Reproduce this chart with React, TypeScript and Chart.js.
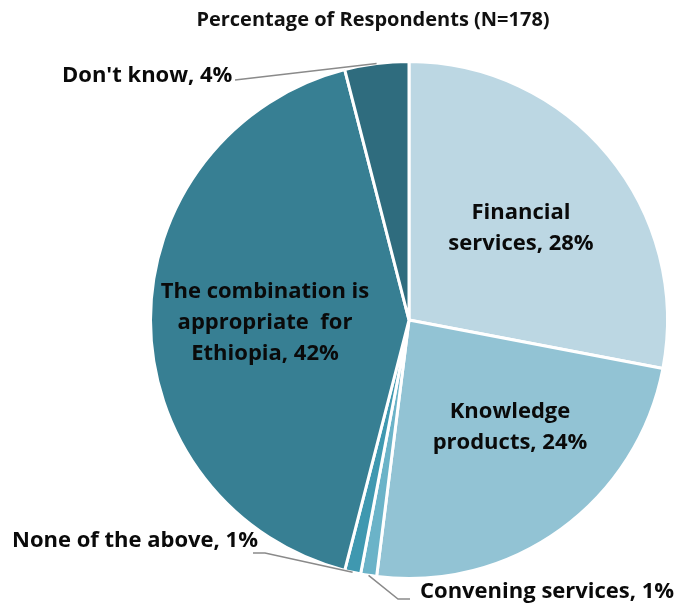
import React, { useEffect, useRef } from "react";
import { Chart, registerables } from "chart.js";

Chart.register(...registerables);

const TITLE = "Percentage of Respondents (N=178)";
const CATEGORIES = [
  "Financial services",
  "Knowledge products",
  "Convening services",
  "None of the above",
  "The combination is appropriate for Ethiopia",
  "Don't know",
];
const VALUES = [28, 24, 1, 1, 42, 4];
const LABEL_LINES = [
  ["Financial", "services, 28%"],
  ["Knowledge", "products, 24%"],
  ["Convening services, 1%"],
  ["None of the above, 1%"],
  ["The combination is", "appropriate  for", "Ethiopia, 42%"],
  ["Don't know, 4%"],
];
const COLORS = ["#BCD7E3", "#92C3D4", "#6BB3C8", "#3F98B0", "#377F93", "#2F6C7E"];

const FONT = "bold 22px 'Open Sans', Lato, sans-serif";
const LINE_H = 31;

const LABEL_POS: { x: number; y: number; align: CanvasTextAlign; leader?: number[][] }[] = [
  { x: 521, y: 213, align: "center" },
  { x: 510, y: 412, align: "center" },
  { x: 420, y: 592, align: "left", leader: [[410, 599], [398, 599]] },
  { x: 12, y: 541, align: "left", leader: [[253, 553], [265, 553]] },
  { x: 265, y: 292, align: "center" },
  { x: 62, y: 76, align: "left", leader: [[235, 80]] },
];

const labelPlugin = {
  id: "labels",
  afterDraw(chart: any) {
    const ctx = chart.ctx as CanvasRenderingContext2D;
    const meta = chart.getDatasetMeta(0);
    ctx.save();
    ctx.font = "bold 20px 'Open Sans', Lato, sans-serif";
    ctx.fillStyle = "#111";
    ctx.textAlign = "center";
    ctx.textBaseline = "middle";
    ctx.fillText(TITLE, 373, 20);

    meta.data.forEach((arc: any, i: number) => {
      const pos = LABEL_POS[i];
      const { x, y, startAngle, endAngle, outerRadius } = arc.getProps(
        ["x", "y", "startAngle", "endAngle", "outerRadius"],
        true
      );
      if (pos.leader) {
        const mid = (startAngle + endAngle) / 2;
        const ex = x + Math.cos(mid) * outerRadius;
        const ey = y + Math.sin(mid) * outerRadius;
        ctx.strokeStyle = "#8A8A8A";
        ctx.lineWidth = 1.5;
        ctx.beginPath();
        ctx.moveTo(pos.leader[0][0], pos.leader[0][1]);
        for (let k = 1; k < pos.leader.length; k++) ctx.lineTo(pos.leader[k][0], pos.leader[k][1]);
        ctx.lineTo(ex, ey);
        ctx.stroke();
      }
      ctx.font = FONT;
      ctx.fillStyle = "#0A0A0A";
      ctx.textAlign = pos.align;
      ctx.textBaseline = "middle";
      LABEL_LINES[i].forEach((line, k) => {
        ctx.fillText(line, pos.x, pos.y + k * LINE_H);
      });
    });
    ctx.restore();
  },
};

export default function App() {
  const ref = useRef<HTMLCanvasElement>(null);
  useEffect(() => {
    document.body.style.margin = "0";
    const chart = new Chart(ref.current!, {
      type: "pie",
      data: {
        labels: CATEGORIES,
        datasets: [
          {
            data: VALUES,
            backgroundColor: COLORS,
            borderColor: "#FFFFFF",
            borderWidth: 3,
          },
        ],
      },
      options: {
        responsive: false,
        animation: false,
        layout: { padding: { left: 149, top: 60, right: 10, bottom: 26 } },
        plugins: {
          legend: { display: false },
          tooltip: { enabled: false },
        },
      },
      plugins: [labelPlugin],
    });
    return () => chart.destroy();
  }, []);
  return (
    <div style={{ width: 679, height: 606 }}>
      <canvas ref={ref} width={679} height={606} style={{ display: "block" }} />
    </div>
  );
}
